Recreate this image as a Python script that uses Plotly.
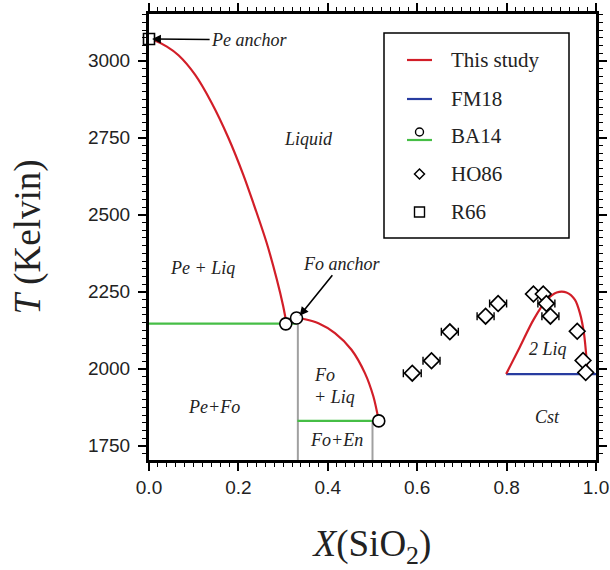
import plotly.graph_objects as go

# ---------------- data ----------------
# Pe liquidus (This study)
pe_liq_x = [0.0, 0.013, 0.040, 0.066, 0.103, 0.140, 0.177, 0.211, 0.233, 0.263, 0.286, 0.300, 0.306]
pe_liq_t = [3071, 3066, 3046, 3018, 2955, 2864, 2752, 2630, 2540, 2410, 2290, 2205, 2160]
# Fo liquidus (This study)
fo_liq_x = [0.332, 0.349, 0.379, 0.416, 0.453, 0.483, 0.502, 0.514]
fo_liq_t = [2165, 2161, 2148, 2116, 2062, 1986, 1910, 1832]
# Immiscibility dome (This study)
dome_x = [0.799, 0.830, 0.860, 0.890, 0.912, 0.934, 0.953, 0.964, 0.973, 0.979, 0.981]
dome_t = [1983, 2072, 2159, 2224, 2248, 2248, 2224, 2181, 2116, 2029, 1983]
# FM18 monotectic
fm18_x = [0.799, 1.0]
fm18_t = [1983, 1983]
# BA14 eutectics (green) and points
ba14_eut1_x = [0.0, 0.330]
ba14_eut1_t = [2147, 2147]
ba14_eut2_x = [0.332, 0.514]
ba14_eut2_t = [1831, 1831]
ba14_x = [0.306, 0.330, 0.514]
ba14_t = [2146, 2165, 1831]
ba14_err = [15, 15, 0]
# HO86
ho86_x = [0.589, 0.632, 0.673, 0.753, 0.781, 0.860, 0.882, 0.889, 0.898, 0.958, 0.971, 0.977]
ho86_t = [1986, 2026, 2120, 2171, 2212, 2243, 2243, 2212, 2171, 2122, 2027, 1988]
ho86_err = [0.02, 0.019, 0.019, 0.019, 0.019, 0.0, 0.0, 0.019, 0.019, 0.0, 0.0, 0.0]
# R66
r66_x = [0.0]
r66_t = [3071]
# compound lines (gray)
fo_line_x = [0.333, 0.333]
fo_line_t = [2147, 1700]
en_line_x = [0.5, 0.5]
en_line_t = [1831, 1700]

# region labels
label_text = ["Liquid", "Pe + Liq", "Pe+Fo", "Fo+En", "2 Liq", "Cst"]
label_x = [0.356, 0.119, 0.145, 0.419, 0.893, 0.891]
label_t = [2747, 2328, 1877, 1769, 2065, 1844]

# legend entries
legend_names = ["This study", "FM18", "BA14", "HO86", "R66"]

RED = "rgb(210,30,40)"
BLUE = "rgb(40,60,160)"
GREEN = "rgb(70,190,70)"
GRAY = "rgb(160,160,160)"

W, H = 610, 570
ML, MR, MT, MB = 149, 14, 14, 110
PW, PH = W - ML - MR, H - MT - MB


def px(xpix):
    return (xpix - ML) / PW


def py(ypix):
    return 1 - (ypix - MT) / PH


fig = go.Figure()

for xs, ts in [(fo_line_x, fo_line_t), (en_line_x, en_line_t)]:
    fig.add_trace(go.Scatter(x=xs, y=ts, mode="lines", line=dict(color=GRAY, width=2),
                             showlegend=False, hoverinfo="skip"))

for xs, ts in [(ba14_eut1_x, ba14_eut1_t), (ba14_eut2_x, ba14_eut2_t)]:
    fig.add_trace(go.Scatter(x=xs, y=ts, mode="lines", line=dict(color=GREEN, width=2.2),
                             showlegend=False, hoverinfo="skip"))

fig.add_trace(go.Scatter(x=fm18_x, y=fm18_t, mode="lines", line=dict(color=BLUE, width=2.2),
                         showlegend=False))

for xs, ts in [(pe_liq_x, pe_liq_t), (fo_liq_x, fo_liq_t), (dome_x, dome_t)]:
    fig.add_trace(go.Scatter(x=xs, y=ts, mode="lines",
                             line=dict(color=RED, width=2.2, shape="spline", smoothing=0.8),
                             showlegend=False))

fig.add_trace(go.Scatter(x=ho86_x, y=ho86_t, mode="markers",
                         marker=dict(symbol="diamond", size=12, color="white",
                                     line=dict(color="black", width=1.7)),
                         error_x=dict(type="data", array=ho86_err, color="black", thickness=1.4, width=4),
                         showlegend=False))

fig.add_trace(go.Scatter(x=ba14_x, y=ba14_t, mode="markers",
                         marker=dict(symbol="circle", size=12, color="white",
                                     line=dict(color="black", width=1.6)),
                         error_y=dict(type="data", array=ba14_err, color="black", thickness=1.3, width=4),
                         showlegend=False, cliponaxis=False))

fig.add_trace(go.Scatter(x=r66_x, y=r66_t, mode="markers",
                         marker=dict(symbol="square", size=11, color="white",
                                     line=dict(color="black", width=1.6)),
                         showlegend=False, cliponaxis=False))

# ---------------- manual legend ----------------
shapes = []
shapes.append(dict(type="rect", xref="paper", yref="paper", x0=px(384), x1=px(569),
                   y0=py(238), y1=py(33), line=dict(color="black", width=1.5),
                   fillcolor="white", layer="above"))
leg_y = [60, 99, 136, 174, 212]
lx0, lx1, lxc = px(407), px(432), 419.5
shapes.append(dict(type="line", xref="paper", yref="paper", x0=lx0, x1=lx1, y0=py(leg_y[0]), y1=py(leg_y[0]),
                   line=dict(color=RED, width=2.2), layer="above"))
shapes.append(dict(type="line", xref="paper", yref="paper", x0=lx0, x1=lx1, y0=py(leg_y[1]), y1=py(leg_y[1]),
                   line=dict(color=BLUE, width=2.2), layer="above"))
shapes.append(dict(type="line", xref="paper", yref="paper", x0=lx0, x1=lx1, y0=py(leg_y[2] + 4), y1=py(leg_y[2] + 4),
                   line=dict(color=GREEN, width=2.2), layer="above"))
shapes.append(dict(type="circle", xref="paper", yref="paper", xsizemode="pixel", ysizemode="pixel",
                   xanchor=px(lxc), yanchor=py(leg_y[2] - 4), x0=-4, x1=4, y0=-4, y1=4,
                   line=dict(color="black", width=1.4), fillcolor="white", layer="above"))
shapes.append(dict(type="path", xref="paper", yref="paper", xsizemode="pixel", ysizemode="pixel",
                   xanchor=px(lxc), yanchor=py(leg_y[3]), path="M -5 0 L 0 5 L 5 0 L 0 -5 Z",
                   line=dict(color="black", width=1.5), fillcolor="white", layer="above"))
shapes.append(dict(type="rect", xref="paper", yref="paper", xsizemode="pixel", ysizemode="pixel",
                   xanchor=px(lxc), yanchor=py(leg_y[4]), x0=-5, x1=5, y0=-5, y1=5,
                   line=dict(color="black", width=1.4), fillcolor="white", layer="above"))

ann_font = dict(family="Liberation Serif", size=18, color="#222")
annotations = []
for name, yy in zip(legend_names, leg_y):
    annotations.append(dict(x=px(449), y=py(yy), xref="paper", yref="paper", text=name,
                            xanchor="left", yanchor="middle", showarrow=False,
                            font=dict(family="Liberation Serif", size=21, color="#222")))
for t, x, y in zip(label_text, label_x, label_t):
    annotations.append(dict(x=x, y=y, xref="x", yref="y", text="<i>%s</i>" % t,
                            showarrow=False, font=ann_font))
annotations.append(dict(x=0.365, y=1980, xref="x", yref="y", text="<i>Fo</i>", xanchor="left",
                        showarrow=False, font=ann_font))
annotations.append(dict(x=0.365, y=1909, xref="x", yref="y", text="<i>+ Liq</i>", xanchor="left",
                        showarrow=False, font=ann_font))
annotations.append(dict(x=r66_x[0] + 0.007, y=r66_t[0], xref="x", yref="y", text="<i>Pe anchor</i>",
                        showarrow=True, arrowhead=2, arrowsize=1.1, arrowwidth=1.6, arrowcolor="black",
                        ax=97, ay=1, font=ann_font))
annotations.append(dict(x=0.337, y=2172, xref="x", yref="y", text="<i>Fo anchor</i>",
                        showarrow=True, arrowhead=2, arrowsize=1.1, arrowwidth=1.6, arrowcolor="black",
                        ax=42, ay=-52, font=ann_font))

axis_common = dict(showline=True, linewidth=3, linecolor="black", mirror="allticks",
                   ticks="outside", ticklen=8, tickwidth=1.5, tickcolor="black",
                   showgrid=False, zeroline=False,
                   tickfont=dict(family="Liberation Sans", size=19, color="#222"))

fig.update_layout(
    width=W, height=H,
    margin=dict(l=ML, r=MR, t=MT, b=MB, autoexpand=False),
    paper_bgcolor="white", plot_bgcolor="white",
    showlegend=False,
    xaxis=dict(range=[0, 1], dtick=0.2, tickformat=".1f",
               minor=dict(dtick=0.02, ticks="outside", ticklen=4, tickwidth=1.2, tickcolor="black"),
               title=dict(text="<i>X</i>(SiO<sub>2</sub>)",
                          font=dict(family="Liberation Serif", size=37, color="#222"), standoff=36),
               automargin=False,
               **axis_common),
    yaxis=dict(range=[1704, 3152], tickvals=[1750, 2000, 2250, 2500, 2750, 3000],
               minor=dict(dtick=25, tick0=1750, ticks="outside", ticklen=4, tickwidth=1.2, tickcolor="black"),
               title=dict(text="<i>T</i> (Kelvin)",
                          font=dict(family="Liberation Serif", size=37, color="#222"), standoff=36),
               ticklabelstandoff=4, automargin=False,
               **axis_common),
    shapes=shapes,
    annotations=annotations,
)

fig.write_html("out.html")
